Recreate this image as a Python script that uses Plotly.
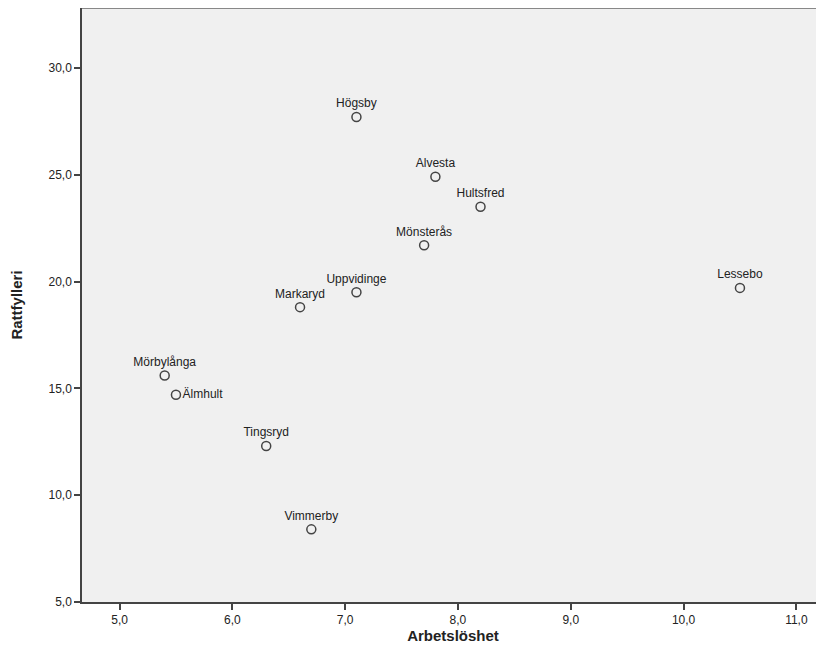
import plotly.graph_objects as go

kommuner = ["Högsby", "Alvesta", "Hultsfred", "Mönsterås", "Uppvidinge", "Markaryd",
            "Lessebo", "Mörbylånga", "Älmhult", "Tingsryd", "Vimmerby"]
arbetsloshet = [7.1, 7.8, 8.2, 7.7, 7.1, 6.6, 10.5, 5.4, 5.5, 6.3, 6.7]
rattfylleri = [27.7, 24.9, 23.5, 21.7, 19.5, 18.8, 19.7, 15.6, 14.7, 12.3, 8.4]
positions = ["top center"] * 8 + ["middle right", "top center", "top center"]

x_ticks = [5, 6, 7, 8, 9, 10, 11]
y_ticks = [5, 10, 15, 20, 25, 30]

fig = go.Figure()
fig.add_trace(go.Scatter(
    x=arbetsloshet, y=rattfylleri, mode="markers+text",
    text=kommuner, textposition=positions,
    textfont=dict(family="Liberation Sans, Arial, sans-serif", size=12, color="#222"),
    marker=dict(symbol="circle", size=9, color="#f0f0f0",
                line=dict(color="#444", width=1.5)),
    cliponaxis=False, hoverinfo="skip",
))

fig.add_shape(type="line", xref="paper", yref="paper", x0=0, x1=1, y0=1, y1=1,
              line=dict(color="#888", width=2))

fig.update_layout(
    width=816, height=650,
    margin=dict(l=74, r=0, t=0, b=56),
    paper_bgcolor="white", plot_bgcolor="#f0f0f0",
    separators=", ",
    showlegend=False,
    font=dict(family="Liberation Sans, Arial, sans-serif", size=12, color="#222"),
)
fig.update_xaxes(
    range=[4.667, 11.245], tickvals=x_ticks, tickformat=".1f",
    showgrid=False, zeroline=False, showline=True, linecolor="#444", linewidth=1.5,
    ticks="outside", ticklen=6, tickwidth=1.5, tickcolor="#444",
    title=dict(text="<b>Arbetslöshet</b>", font=dict(size=15), standoff=4),
)
fig.update_yaxes(
    range=[5, 32.8], tickvals=y_ticks, tickformat=".1f",
    showgrid=False, zeroline=False, showline=True, linecolor="#444", linewidth=1.5,
    ticks="outside", ticklen=6, tickwidth=1.5, tickcolor="#444",
    title=dict(text="<b>Rattfylleri</b>", font=dict(size=15), standoff=22),
)

fig.write_html("out.html")
